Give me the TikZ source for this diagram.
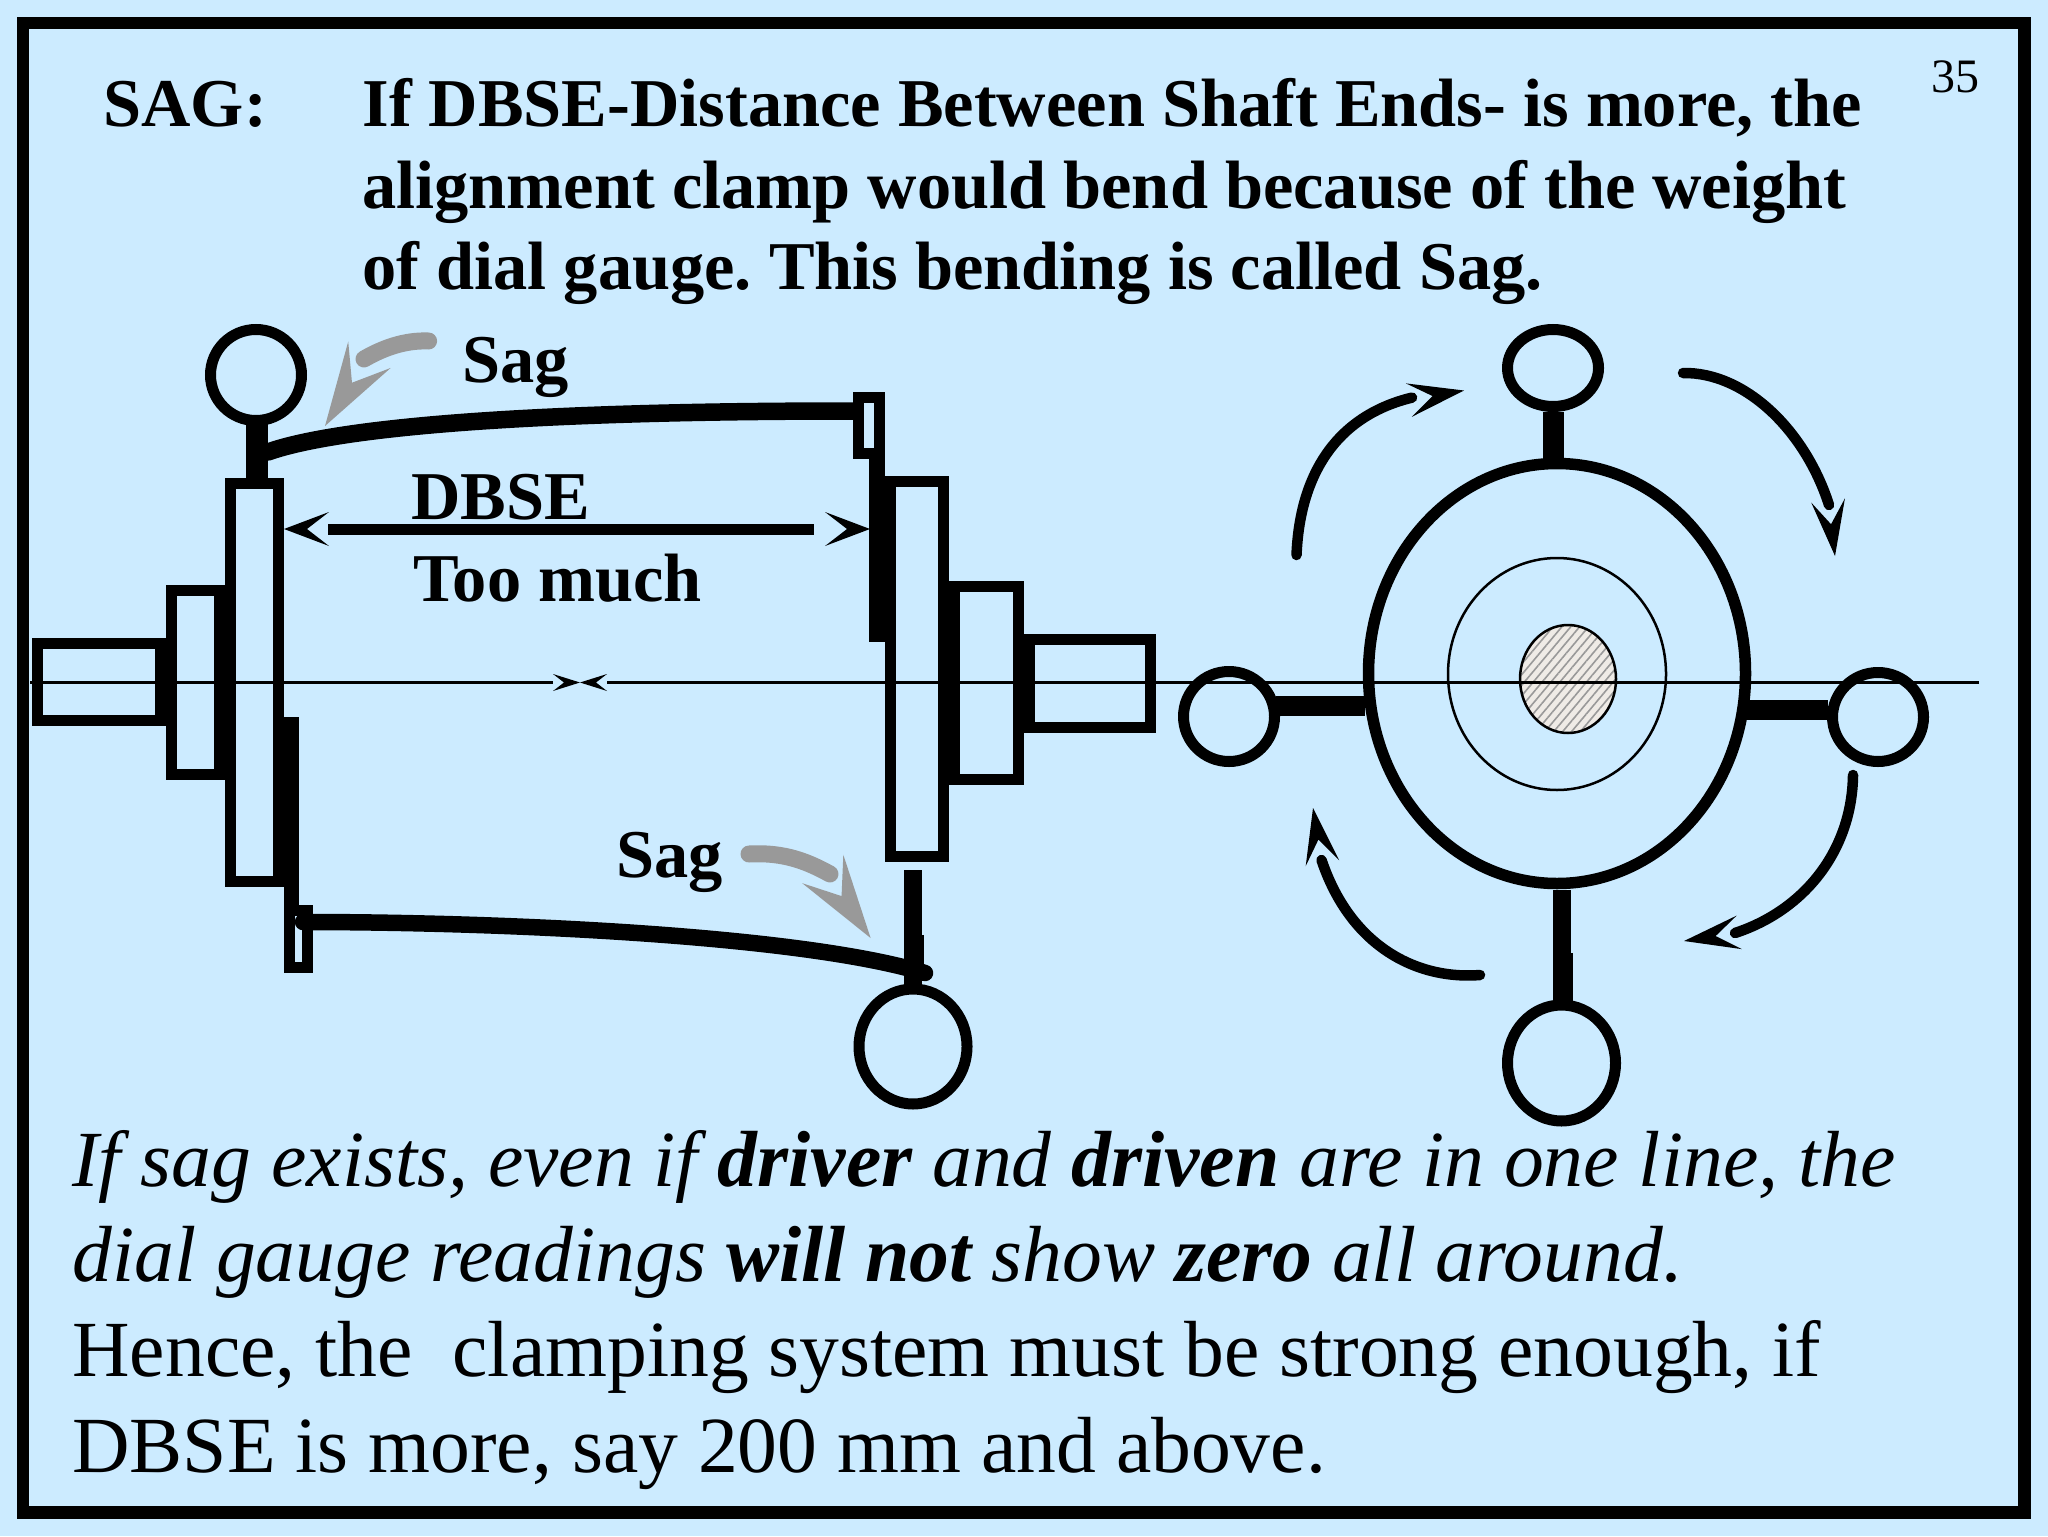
\documentclass[tikz,border=0pt]{standalone}
\usepackage{fontspec}
\setmainfont{Liberation Serif}
\usetikzlibrary{arrows.meta,shapes.geometric,patterns.meta,positioning,calc}
\definecolor{slidebg}{HTML}{CCEBFF}
\definecolor{saggray}{HTML}{999999}
\definecolor{corefill}{HTML}{EFEBE6}
\tikzset{
	titletext/.style={anchor=base west,inner sep=0pt,font=\frenchspacing\bfseries\fontsize{34.2}{40}\selectfont},
	bodytext/.style={anchor=base west,inner sep=0pt,font=\frenchspacing\fontsize{39.8}{46}\selectfont},
	partbox/.style 2 args={draw,rectangle,line width=5.5pt,inner sep=0pt,outer sep=0pt,minimum width=#1pt,minimum height=#2pt},
	gauge/.style 2 args={draw,ellipse,line width=5.5pt,inner sep=0pt,outer sep=0pt,minimum width=#1pt,minimum height=#2pt},
	stemline/.style={line width=#1pt},
	turnline/.style={line width=5.25pt,line cap=round},
	turntip/.style={line width=0.1pt,-{Stealth[length=28pt,width=17pt,inset=12pt,line width=0pt]}},
	sagline/.style={draw=saggray,line width=8.5pt,line cap=round},
	sagtip/.style={draw=saggray,line width=0.1pt,-{Stealth[length=42pt,width=25pt,inset=16.5pt,line width=0pt]}},
	dbseline/.style={line width=5.5pt},
	dbsetip/.style={line width=0.1pt,-{Stealth[length=22.5pt,width=17pt,inset=11pt,line width=0pt]}},
	axisline/.style={line width=1.35pt},
	axistip/.style={line width=0.1pt,-{Stealth[length=13.5pt,width=8.5pt,inset=5.5pt,line width=0pt]}},
}
\begin{document}
\begin{tikzpicture}[x=0.5pt,y=-0.5pt]
	\useasboundingbox (0,0) rectangle (2048,1536);
	\fill[slidebg] (0,0) rectangle (2048,1536);
	\draw[line width=6.25pt] (23,23) rectangle (2024.5,1512.5);

	% heading
	\node[titletext] (sagword) at (103,126.5) {SAG:};
	\node[titletext] (titleA) at (362,126.5) {If DBSE-Distance Between Shaft Ends- is more, the};
	\node[titletext] (titleB) at (362,208.5) {alignment clamp would bend because of the weight};
	\node[titletext] (titleC) at (362,289.5) {of dial gauge. This bending is called Sag.};
	\node[anchor=base west,inner sep=0pt,font=\fontsize{24}{28}\selectfont] (pageno) at (1931,93) {35};

	% left coupling half
	\node[partbox={24}{199}] (discL) at (254.5,682.5) {};
	\node[partbox={24}{92}] (hubL) at (195.5,682.5) {};
	\node[partbox={61.5}{38.5}] (shaftL) at (99,682) {};
	\fill (284,717) rectangle (299,905);
	\node[partbox={9}{28.5}] (clampL) at (298.5,939) {};
	\node[gauge={45.5}{45.5}] (gaugeL) at (256,375) {};
	\draw[stemline=11.25] (257,421) -- (257,478);

	% right coupling half
	\node[partbox={26.5}{187.5}] (discR) at (917,669) {};
	\node[partbox={32}{96.5}] (hubR) at (986.5,683) {};
	\node[partbox={60.5}{44}] (shaftR) at (1090,683.5) {};
	\fill (869,459) rectangle (885,642);
	\node[partbox={10.5}{28}] (clampR) at (869,425.5) {};
	\node[gauge={54}{57.5}] (gaugeR) at (913,1046.5) {};
	\draw[stemline=8.75] (913,870) -- (913,990);
	\draw[stemline=9.5] (914.5,935) -- (914.5,975);

	% clamps, sagging
	\draw[stemline=8.75,line cap=round] (268,452) .. controls (330,430) and (500,411) .. (853,411);
	\draw[stemline=8.25,line cap=round] (303,922) .. controls (500,922) and (800,935) .. (925,973);

	% distance between shaft ends
	\coordinate (dbseL) at (284,529);
	\coordinate (dbseR) at (870,529);
	\draw[dbseline] (328,529) -- (814,529);
	\draw[dbsetip] (307,529) -- (dbseL);
	\draw[dbsetip] (847,529) -- (dbseR);
	\node[titletext] (dbseword) at (411,519) {DBSE};
	\node[titletext] (toomuch) at (413,601) {Too much};

	% sag labels
	\node[titletext] (sagA) at (462,382.5) {Sag};
	\node[titletext] (sagB) at (616,877.5) {Sag};
	\draw[sagline] (428.6,341) .. controls (405,340) and (383,348) .. (364,359);
	\draw[sagtip] (352,382.7) -- (325,426);
	\draw[sagline] (749,854) .. controls (785,852) and (808,862) .. (830,874);
	\draw[sagtip] (841.5,896) -- (870.6,938);

	% end view
	\draw[stemline=10.75] (1553.25,412) -- (1553.25,460);
	\draw[stemline=8.75] (1561.75,890) -- (1561.75,953);
	\draw[stemline=10] (1563,953) -- (1563,1002);
	\draw[stemline=10] (1276,706) -- (1365,706);
	\draw[stemline=10.25] (1745,710) -- (1828,710);
	\node[gauge={188.5}{210},line width=5.75pt] (body) at (1557,673.5) {};
	\node[gauge={109}{116},line width=1.25pt] (ring) at (1557,674) {};
	\node[gauge={48}{54},line width=1.25pt,preaction={fill=corefill},pattern={Lines[angle=50,distance=3.4pt,line width=0.8pt]},pattern color=black!40] (core) at (1568,679) {};
	\node[gauge={45.5}{38.5}] (gaugeT) at (1553,368) {};
	\node[gauge={54}{58}] (gaugeB) at (1561.5,1063) {};
	\node[gauge={45.5}{45}] (gaugeW) at (1229,716.5) {};
	\node[gauge={45.5}{44.5}] (gaugeE) at (1878,717) {};

	% rotation
	\draw[turnline] (1296.5,555) .. controls (1300,470) and (1340,415) .. (1412,397.6);
	\draw[turntip] (1432.5,396) -- (1464,390.5);
	\draw[turnline] (1683,373) .. controls (1745,372) and (1805,430) .. (1829,505);
	\draw[turntip] (1831,524) -- (1835,556);
	\draw[turnline] (1853,775) .. controls (1852,850) and (1805,910) .. (1735,933);
	\draw[turntip] (1716,936) -- (1684,941);
	\draw[turnline] (1480,975) .. controls (1415,980) and (1350,945) .. (1321.5,860);
	\draw[turntip] (1318.4,839.5) -- (1313,808);

	% centre line
	\coordinate (axisM) at (580,682.5);
	\draw[axisline] (30,682.5) -- (553,682.5);
	\draw[axistip] (564,682.5) -- (axisM);
	\draw[axisline] (1979,682.5) -- (607,682.5);
	\draw[axistip] (596,682.5) -- (axisM);

	% remark
	\node[bodytext] (noteA) at (72,1186) {\itshape If sag exists, even if \textbf{driver} and \textbf{driven} are in one line, the};
	\node[bodytext] (noteB) at (72,1281) {\itshape dial gauge readings \textbf{will not} show \textbf{zero} all around.};
	\node[bodytext] (noteC) at (72,1376.5) {Hence, the\ \ clamping system must be strong enough, if};
	\node[bodytext] (noteD) at (72,1472) {DBSE is more, say 200 mm and above.};
\end{tikzpicture}
\end{document}
